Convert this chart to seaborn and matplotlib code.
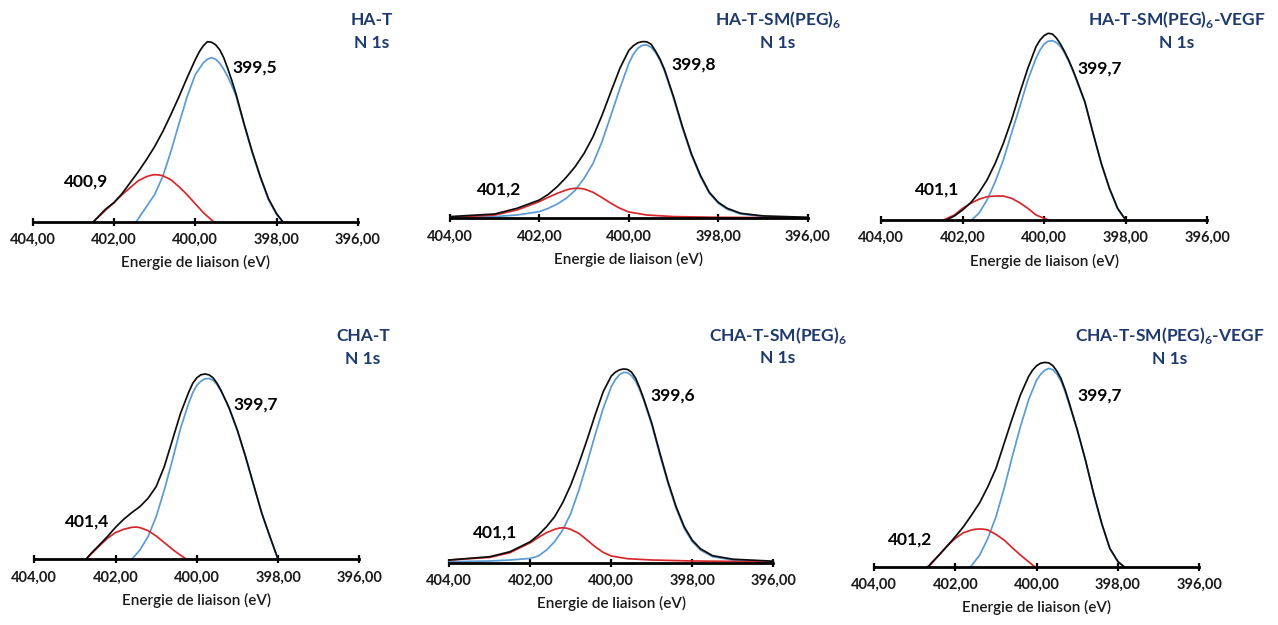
import numpy as np
import pandas as pd
import matplotlib
matplotlib.use("Agg")
import matplotlib.pyplot as plt
import seaborn as sns

sns.set_theme(style="white")
plt.rcParams['font.family'] = ['Lato', 'DejaVu Sans']
plt.rcParams['mathtext.fontset'] = 'custom'
plt.rcParams['mathtext.rm'] = 'Lato'
plt.rcParams['mathtext.bf'] = 'Lato:bold'

# ---------------- data (binding energy in eV, intensity in a.u.) ----------------
TITLES = ["HA-T", r"HA-T-SM(PEG)$_{\mathbf{6}}$", r"HA-T-SM(PEG)$_{\mathbf{6}}$-VEGF",
          "CHA-T", r"CHA-T-SM(PEG)$_{\mathbf{6}}$", r"CHA-T-SM(PEG)$_{\mathbf{6}}$-VEGF"]
MAIN_PEAK = ["399,5", "399,8", "399,7", "399,7", "399,6", "399,7"]
MINOR_PEAK = ["400,9", "401,2", "401,1", "401,4", "401,1", "401,2"]
TICKS = [404, 402, 400, 398, 396]
TICK_LABELS = ["404,00", "402,00", "400,00", "398,00", "396,00"]

# Panel 1 : HA-T
P1_black_E = [402.5, 402.2, 402.0, 401.8, 401.6, 401.4, 401.2, 401.0, 400.8, 400.6, 400.4, 400.2, 400.1,
              400.0, 399.9, 399.8, 399.7, 399.6, 399.5, 399.4, 399.3, 399.2, 399.1, 399.0, 398.8,
              398.6, 398.4, 398.2, 398.0, 397.85]
P1_black_I = [0, 12.7, 19, 28, 39, 50, 62, 75, 90, 107, 125, 144, 153,
              162, 170, 176, 180, 179.5, 177, 172, 164, 153, 141, 128, 98,
              70, 45, 23, 8, 0]
P1_blue_E = [401.45, 401.2, 401.0, 400.8, 400.6, 400.4, 400.2, 400.0, 399.9, 399.8, 399.7, 399.6,
             399.5, 399.4, 399.3, 399.2, 399.1, 399.0, 398.8, 398.6, 398.4, 398.2, 398.0, 397.85]
P1_blue_I = [0, 15, 27, 45, 70, 98, 125, 147, 153, 159, 162.5, 164,
             162.5, 158.5, 152.5, 145, 136, 126, 97, 69, 44, 22, 7, 0]
P1_red_E = [402.5, 402.2, 402.0, 401.8, 401.6, 401.4, 401.2, 401.1, 401.0, 400.9, 400.8, 400.6,
            400.4, 400.2, 400.0, 399.8, 399.55]
P1_red_I = [0, 11.7, 19, 27, 34, 41, 45, 46.3, 47, 46.8, 46, 42, 35, 27, 18, 9, 0]

# Panel 2 : HA-T-SM(PEG)6
P2_E = [404.0, 403.0, 402.5, 402.0, 401.8, 401.6, 401.4, 401.2, 401.0, 400.8, 400.6, 400.4, 400.2,
        400.0, 399.9, 399.8, 399.7, 399.6, 399.5, 399.4, 399.3, 399.2, 399.0, 398.8, 398.6, 398.4,
        398.2, 398.0, 397.8, 397.5, 397.0, 396.5, 396.0]
P2_black_I = [1.7, 4.3, 10, 18.3, 24, 31.7, 41, 51.7, 65, 81.7, 103, 126.7, 150,
              168, 172.5, 175.5, 176.7, 176.5, 174, 167, 159, 148.5, 121.5, 91.5, 64.5, 43,
              26, 16, 10, 5, 2.4, 1.7, 1]
P2_blue_I = [1, 1.7, 3.3, 6.7, 10, 14.3, 20, 28, 40, 55, 76.7, 103, 130,
             155, 164, 170, 173, 173.3, 171, 165.5, 157.5, 147, 120, 90, 63, 41.7,
             25, 15, 9, 4.3, 1.7, 1, 0.7]
P2_red_E = [404.0, 403.0, 402.5, 402.0, 401.8, 401.6, 401.4, 401.3, 401.2, 401.1, 401.0, 400.8,
            400.6, 400.4, 400.2, 400.0, 399.6, 399.0, 398.0, 397.0, 396.0]
P2_red_I = [1, 3.3, 8.3, 16.7, 21, 25, 28.3, 29.5, 30, 29.9, 29.3, 26,
            20.7, 15, 10, 6.3, 3.3, 1.7, 1, 0.7, 0]

# Panel 3 : HA-T-SM(PEG)6-VEGF
P3_black_E = [402.4, 402.2, 402.0, 401.8, 401.6, 401.4, 401.2, 401.0, 400.8, 400.6, 400.4, 400.2,
              400.1, 400.0, 399.9, 399.8, 399.7, 399.6, 399.5, 399.4, 399.3, 399.2, 399.0, 398.8,
              398.6, 398.4, 398.2, 398.0]
P3_black_I = [0, 4, 10, 17.3, 27.3, 40, 56.7, 76.7, 100, 126.7, 151.7, 173.3,
              180, 184.5, 186.7, 186, 182, 176, 168.5, 160, 150.5, 140, 118, 86.7,
              56.7, 31.7, 11.7, 0]
P3_blue_E = [401.78, 401.6, 401.4, 401.2, 401.0, 400.8, 400.6, 400.4, 400.2, 400.1, 400.0, 399.9,
             399.8, 399.7, 399.6, 399.5, 399.4, 399.3, 399.2, 399.0, 398.8, 398.6, 398.4, 398.2, 398.0]
P3_blue_I = [0, 6.7, 20, 38.3, 60, 86.7, 113, 140, 161.7, 170, 176, 178.8,
             179.3, 177.5, 173.5, 167, 159, 149.5, 139, 117.5, 86.5, 56.5, 31.5, 11.5, 0]
P3_red_E = [402.47, 402.2, 402.0, 401.8, 401.6, 401.4, 401.2, 401.0, 400.8, 400.6, 400.4, 400.2,
            400.0, 399.9]
P3_red_I = [0, 5, 11.7, 16.7, 20.7, 23.3, 24, 24, 21.7, 17.3, 11.7, 5, 1.7, 0]

# Panel 4 : CHA-T
P4_black_E = [402.73, 402.6, 402.4, 402.2, 402.0, 401.8, 401.6, 401.4, 401.2, 401.0, 400.8, 400.6,
              400.4, 400.2, 400.1, 400.0, 399.9, 399.8, 399.7, 399.6, 399.5, 399.4, 399.2, 399.0,
              398.8, 398.6, 398.4, 398.2, 398.0]
P4_black_I = [0, 6, 14.3, 22.7, 32, 40, 46.7, 52.7, 61, 72.7, 92.7, 119.3,
              146, 167, 176, 181.5, 184.5, 185.3, 184.5, 181.5, 176, 168.5, 151, 129,
              102.7, 74.3, 46, 22.7, 0]
P4_blue_E = [401.6, 401.4, 401.2, 401.0, 400.8, 400.6, 400.4, 400.2, 400.1, 400.0, 399.9, 399.8,
             399.7, 399.6, 399.5, 399.4, 399.3, 399.2, 399.0, 398.8, 398.6, 398.4, 398.2, 398.0]
P4_blue_I = [0, 9.3, 22.7, 42.7, 69.3, 99.3, 131, 156, 166.5, 174, 178, 180.5,
             180.8, 179, 174.5, 168, 160, 150.5, 128.5, 102.5, 74, 46, 22.5, 0]
P4_red_E = [402.73, 402.6, 402.4, 402.2, 402.0, 401.8, 401.6, 401.5, 401.4, 401.2, 401.0, 400.8,
            400.6, 400.4, 400.25]
P4_red_I = [0, 5.3, 13.3, 21, 26.7, 30, 32, 32.2, 31.7, 28.7, 23.3, 16.7, 10, 4, 0]

# Panel 5 : CHA-T-SM(PEG)6
P5_E = [404.0, 403.0, 402.5, 402.0, 401.8, 401.6, 401.4, 401.2, 401.0, 400.8, 400.6, 400.4, 400.2,
        400.0, 399.9, 399.8, 399.7, 399.6, 399.5, 399.4, 399.3, 399.2, 399.0, 398.8, 398.6, 398.4,
        398.2, 398.0, 397.8, 397.5, 397.0, 396.5, 396.0]
P5_black_I = [2.7, 6, 11, 21, 27.7, 36, 46, 60, 77.7, 99.3, 122.7, 147.7, 171,
              186.7, 190.5, 192.8, 193.7, 193.3, 190.5, 184.5, 175, 164, 139.5, 109.5, 81, 56,
              36, 22.5, 14, 7, 3.5, 2.5, 1.5]
P5_blue_I = [1, 1.7, 2.7, 4.3, 6.7, 12.7, 21, 32.7, 49.3, 72.7, 99.3, 127.7, 154.3,
             176, 183, 188, 190.3, 190, 187, 181.5, 173, 162.5, 137.7, 107.7, 79.3, 54.3,
             34.3, 21, 12.7, 6, 2.7, 1.7, 1]
P5_red_E = [404.0, 403.0, 402.5, 402.0, 401.8, 401.6, 401.4, 401.3, 401.2, 401.1, 401.0, 400.8,
            400.6, 400.4, 400.2, 400.0, 399.6, 399.0, 398.0, 397.0, 396.0]
P5_red_I = [2.7, 5.3, 10, 20, 25.3, 30, 33.3, 34.5, 35, 34.5, 33.3, 29.3,
            22.7, 16, 10.3, 6.7, 4, 2.7, 1.7, 1.3, 0.3]

# Panel 6 : CHA-T-SM(PEG)6-VEGF
P6_black_E = [402.66, 402.6, 402.4, 402.2, 402.0, 401.8, 401.6, 401.4, 401.2, 401.0, 400.8, 400.6,
              400.4, 400.2, 400.1, 400.0, 399.9, 399.8, 399.7, 399.6, 399.5, 399.4, 399.3, 399.2,
              399.0, 398.8, 398.6, 398.4, 398.2, 398.0, 397.85]
P6_black_I = [0, 3.3, 11.7, 20.7, 30, 40, 51.7, 64, 80, 98.3, 123.3, 148.3,
              171.7, 190, 196.5, 201, 203.5, 204.3, 203.8, 201, 195.5, 188, 177, 164,
              136.7, 106.7, 73.3, 43.3, 18.3, 5, 0]
P6_blue_E = [401.62, 401.4, 401.2, 401.0, 400.8, 400.6, 400.4, 400.2, 400.0, 399.9, 399.8, 399.7,
             399.6, 399.5, 399.4, 399.3, 399.2, 399.0, 398.8, 398.6, 398.4, 398.2, 398.0, 397.85]
P6_blue_I = [0, 11.7, 28.3, 50, 78.3, 110, 140, 166.7, 186.7, 192.5, 196.5, 198.3,
             197, 192.5, 185.5, 175, 162, 136.5, 106.5, 73, 43, 18, 5, 0]
P6_red_E = [402.69, 402.6, 402.4, 402.2, 402.0, 401.8, 401.6, 401.5, 401.4, 401.3, 401.2, 401.0,
            400.8, 400.6, 400.4, 400.2, 400.05]
P6_red_I = [0, 2.3, 11.7, 20.7, 28.3, 34, 36.7, 37.5, 37.7, 37.5, 36.7, 32.3,
            26.7, 19, 11.7, 5, 0]

CURVES = [
    [(P1_black_E, P1_black_I), (P1_blue_E, P1_blue_I), (P1_red_E, P1_red_I)],
    [(P2_E, P2_black_I), (P2_E, P2_blue_I), (P2_red_E, P2_red_I)],
    [(P3_black_E, P3_black_I), (P3_blue_E, P3_blue_I), (P3_red_E, P3_red_I)],
    [(P4_black_E, P4_black_I), (P4_blue_E, P4_blue_I), (P4_red_E, P4_red_I)],
    [(P5_E, P5_black_I), (P5_E, P5_blue_I), (P5_red_E, P5_red_I)],
    [(P6_black_E, P6_black_I), (P6_blue_E, P6_blue_I), (P6_red_E, P6_red_I)],
]

# label anchor positions (data coords: eV, intensity)
MAIN_LABEL_POS = [(398.53, 153.7), (398.56, 153.3), (398.63, 151), (398.56, 154.3), (398.48, 166.7), (398.45, 170.7)]
MINOR_LABEL_POS = [(402.69, 39.7), (402.90, 28.3), (402.63, 30), (402.70, 37.3), (402.87, 29.7), (403.12, 26.7)]

# ---------------- layout (pixels) ----------------
W, H = 1278, 625
# (x at 404 eV, x at 396 eV, y of axis line)
PANEL_BOX = [(32.5, 358, 221.7), (450, 807.7, 218.3), (881, 1207.3, 220),
             (34.3, 359.3, 559.3), (449.3, 773.3, 562.7), (874, 1199.3, 566.7)]
TITLE_POS = [(372, 20, 43), (778, 20, 43), (1177, 20, 43),
             (363, 336, 359), (778, 335, 358), (1170, 335, 359)]
AX_H = 215.0

COLORS = ["#0d0d0d", "#5B9BD5", "#D7272B"]
NAVY = "#1F3A6E"

fig = plt.figure(figsize=(W / 100, H / 100), dpi=100)

for i in range(6):
    x0, x1, ya = PANEL_BOX[i]
    ax = fig.add_axes([x0 / W, (H - ya) / H, (x1 - x0) / W, AX_H / H])
    rows = []
    for name, (E, I) in zip(["env", "main", "minor"], CURVES[i]):
        for e, v in zip(E, I):
            rows.append({"E": e, "I": v, "comp": name})
    df = pd.DataFrame(rows)
    for name, col in zip(["main", "minor", "env"], [COLORS[1], COLORS[2], COLORS[0]]):
        sub = df[df["comp"] == name]
        sns.lineplot(data=sub, x="E", y="I", ax=ax, color=col, linewidth=1.25,
                     sort=False, estimator=None, legend=False, clip_on=False)
    ax.set_xlim(404, 396)
    ax.set_ylim(0, AX_H)
    for s in ["left", "right", "top"]:
        ax.spines[s].set_visible(False)
    ax.spines["bottom"].set_color("black")
    ax.spines["bottom"].set_linewidth(2.0)
    ax.set_yticks([])
    ax.set_xticks(TICKS)
    ax.set_xticklabels(TICK_LABELS, fontsize=10.5, fontweight="bold", color="#1a1a1a")
    ax.tick_params(axis="x", direction="inout", length=6, width=1.6, color="black", pad=5,
                   bottom=True)
    ax.set_xlabel("Energie de liaison (eV)", fontsize=11, fontweight=600, color="#1a1a1a", labelpad=6)
    ax.set_ylabel("")
    ax.patch.set_alpha(0)
    ex, ey = MAIN_LABEL_POS[i]
    ax.text(ex, ey, MAIN_PEAK[i], fontsize=12.5, fontweight="bold", color="black",
            ha="center", va="center")
    mx, my = MINOR_LABEL_POS[i]
    ax.text(mx, my, MINOR_PEAK[i], fontsize=12.5, fontweight="bold", color="black",
            ha="center", va="center")
    tx, ty1, ty2 = TITLE_POS[i]
    fig.text(tx / W, 1 - ty1 / H, TITLES[i], fontsize=12.5, fontweight="bold", color=NAVY,
             ha="center", va="center")
    fig.text(tx / W, 1 - ty2 / H, "N 1s", fontsize=12.5, fontweight="bold", color=NAVY,
             ha="center", va="center")

fig.savefig("out.png", dpi=100)
